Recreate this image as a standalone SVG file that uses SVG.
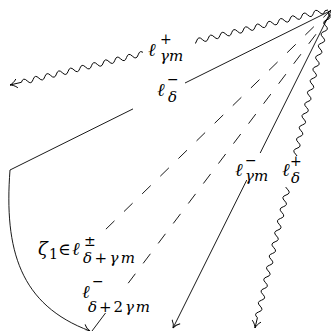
<svg xmlns="http://www.w3.org/2000/svg" width="331" height="331" viewBox="0 0 331 331">
<style>
.ln{fill:none;stroke:#000;stroke-width:0.9}
.m{font-family:"DejaVu Serif",serif;font-style:italic;font-size:18px;fill:#000}
.u{font-family:"DejaVu Serif",serif;font-size:17px;fill:#000}
.s{font-family:"DejaVu Serif",serif;font-style:italic;font-size:15px;fill:#000}
.su{font-family:"DejaVu Serif",serif;font-size:14px;fill:#000}
.up{font-style:normal}
.bg{fill:#fff}
</style>
<defs>
<marker id="to" markerUnits="userSpaceOnUse" orient="auto" refX="0" refY="0" overflow="visible">
<path d="M-7,-4.5 C-5,-2 -2,-0.5 0,0 C-2,0.5 -5,2 -7,4.5" fill="none" stroke="#000" stroke-width="0.9"/>
</marker>
</defs>
<g id="connectors">
<path class="ln" transform="translate(328,10) rotate(166.73)" d="M0,0 h3 q3,-5 6,0 t6,0 t6,0 t6,0 t6,0 t6,0 t6,0 t6,0 t6,0 t6,0 t6,0 t6,0 t6,0 t6,0 t6,0 t6,0 t6,0 t6,0 t6,0 t6,0 t6,0 t6,0 t6,0 t6,0 t6,0 t6,0 t6,0 t6,0 t6,0 t6,0 t6,0 t6,0 t6,0 t6,0 t6,0 t6,0 t6,0 t6,0 t6,0 t6,0 t6,0 t6,0 t6,0 t6,0 t6,0 t6,0 t6,0 t6,0 t6,0 t6,0 t6,0 t6,0 h11.7" marker-end="url(#to)"/>
<path class="ln" transform="translate(329,11) rotate(103.14)" d="M0,0 h3 q3,-5 6,0 t6,0 t6,0 t6,0 t6,0 t6,0 t6,0 t6,0 t6,0 t6,0 t6,0 t6,0 t6,0 t6,0 t6,0 t6,0 t6,0 t6,0 t6,0 t6,0 t6,0 t6,0 t6,0 t6,0 t6,0 t6,0 t6,0 t6,0 t6,0 t6,0 t6,0 t6,0 t6,0 t6,0 t6,0 t6,0 t6,0 t6,0 t6,0 t6,0 t6,0 t6,0 t6,0 t6,0 t6,0 t6,0 t6,0 t6,0 t6,0 t6,0 t6,0 t6,0 h10.5" marker-end="url(#to)"/>
<path class="ln" d="M332,10 L185,83 M133,108.9 L10,170 C4,250 20,305 90,331" marker-end="url(#to)"/>
<path class="ln" d="M332,9 L103,232" stroke-dasharray="12 13.3"/>
<path class="ln" d="M335,9 L128.2,283.2" stroke-dasharray="12 13" stroke-dashoffset="-6.6"/>
<path class="ln" d="M105.5,313 L92,331"/>
<path class="ln" d="M332,9 L260.2,153 M246.8,180 L173,328" marker-end="url(#to)"/>
</g>
<g id="label-l-gamma-plus">
<rect class="bg" x="143" y="32" width="52" height="31"/>
<text class="m" x="148" y="56">ℓ</text>
<text class="su" x="160" y="44">+</text>
<text class="s" x="160" y="61" font-size="16">γm</text>
</g>
<g id="label-l-delta-minus">
<text class="m" x="157" y="96">ℓ</text>
<text class="su" x="167" y="84">−</text>
<text class="s" x="168" y="102">δ</text>
</g>
<g id="label-l-gamma-minus">
<text class="m" x="235" y="176">ℓ</text>
<text class="su" x="245" y="165">−</text>
<text class="s" x="245" y="181" font-size="16">γm</text>
</g>
<g id="label-l-delta-plus">
<rect class="bg" x="280" y="156" width="26" height="31"/>
<text class="m" x="282" y="176">ℓ</text>
<text class="su" x="290" y="166">+</text>
<text class="s" x="291" y="183">δ</text>
</g>
<g id="label-zeta">
<text class="m" x="38" y="255">ζ</text>
<text class="su" x="49" y="259">1</text>
<text class="u" x="58" y="255">∈</text>
<text class="m" x="72" y="255">ℓ</text>
<text class="su" x="84" y="246">±</text>
<text class="s" x="83" y="263" textLength="52" lengthAdjust="spacing">δ<tspan class="up">+</tspan>γm</text>
</g>
<g id="label-l-delta-2gamma">
<text class="m" x="82" y="298">ℓ</text>
<text class="su" x="92" y="286">−</text>
<text class="s" x="88" y="312" textLength="62" lengthAdjust="spacing">δ<tspan class="up">+2</tspan>γm</text>
</g>
</svg>
